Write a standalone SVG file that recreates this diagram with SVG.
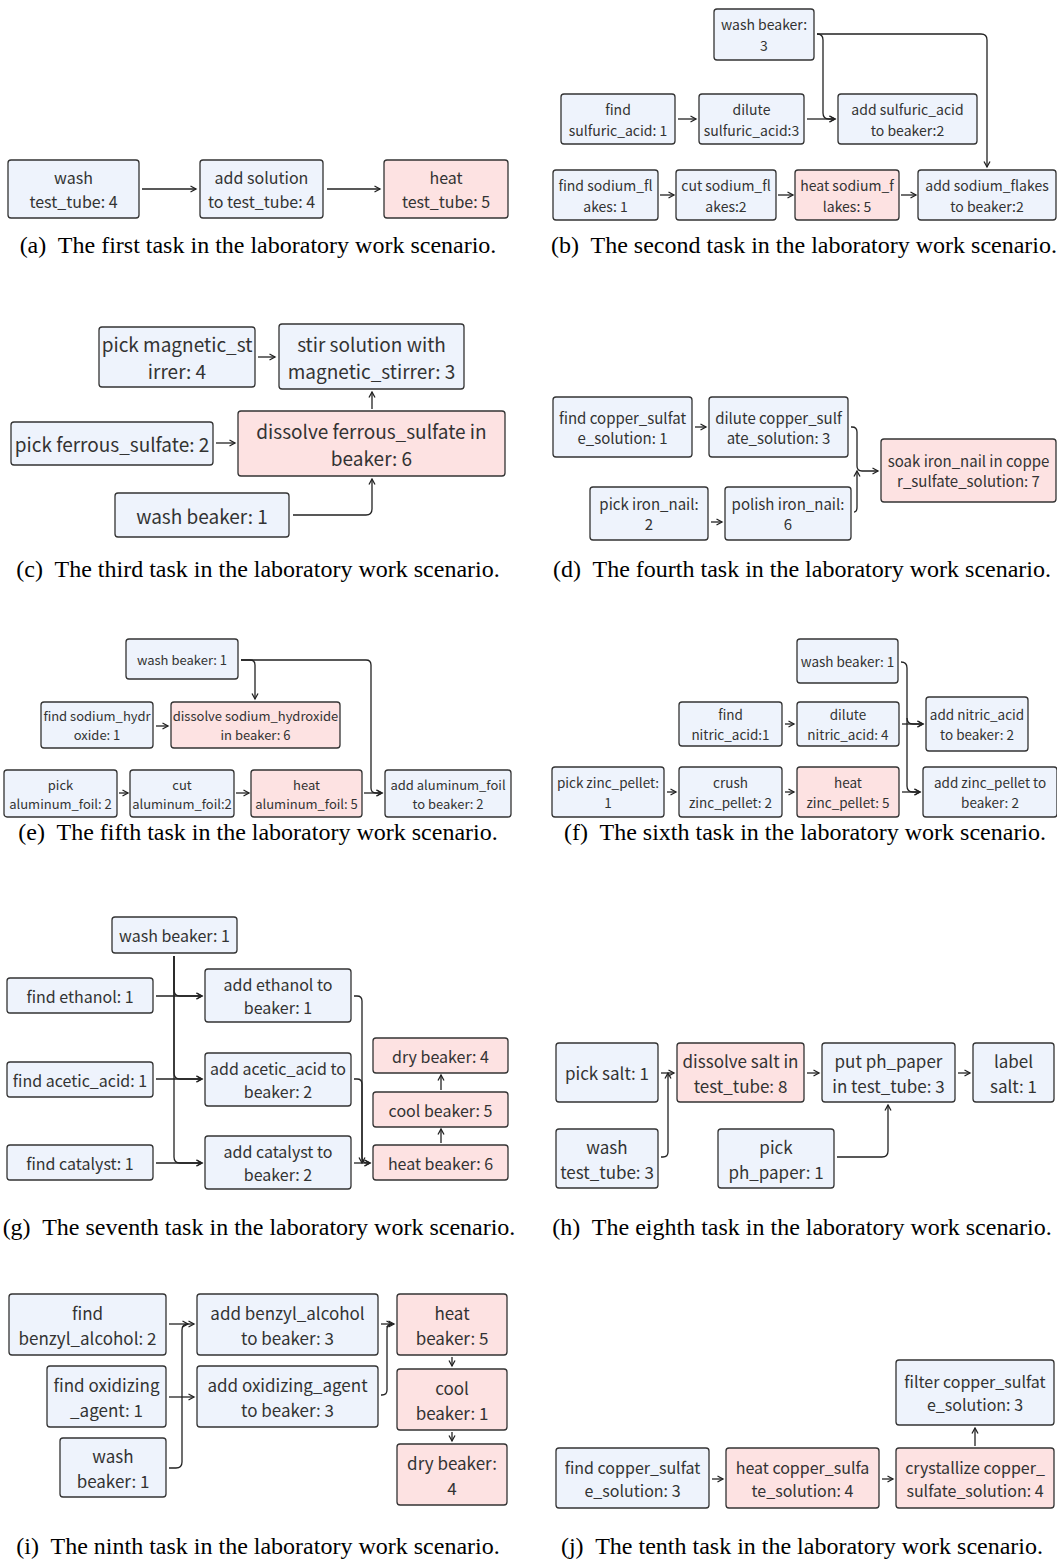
<svg xmlns="http://www.w3.org/2000/svg" width="1057" height="1564" viewBox="0 0 1057 1564">
<style>
rect{stroke:#333;stroke-width:1.3;fill:#eef3fc}
rect.p{fill:#fde2e2}
text{font-family:"Noto Sans CJK SC","Noto Sans",sans-serif;fill:#333;text-anchor:middle;dominant-baseline:central}
text.cap{font-family:"Liberation Serif","Times New Roman",serif;fill:#000;font-size:24px}
.c path{fill:none;stroke:#222;stroke-width:1.3}
.a path{marker-end:url(#ah)}
</style>
<defs>
<marker id="ah" markerWidth="8" markerHeight="8" refX="6.5" refY="4" orient="auto" markerUnits="userSpaceOnUse"><path d="M1,1 L6.5,4 L1,7" fill="none" stroke="#222" stroke-width="1.3"/></marker>
</defs>
<rect width="1057" height="1564" style="fill:#fff;stroke:none"/>

<!-- (a) -->
<g font-size="16">
<g id="a1"><rect x="8" y="160" width="131" height="58" rx="3"/><text x="73.5" y="177">wash</text><text x="73.5" y="201">test_tube: 4</text></g>
<g id="a2"><rect x="200" y="160" width="123" height="58" rx="3"/><text x="261.5" y="177">add solution</text><text x="261.5" y="201">to test_tube: 4</text></g>
<g id="a3"><rect class="p" x="384" y="160" width="124" height="58" rx="3"/><text x="446" y="177">heat</text><text x="446" y="201">test_tube: 5</text></g>
</g>
<g class="c a" id="conn-a"><path d="M142,189 H196"/><path d="M327,189 H380"/></g>
<text class="cap" x="258" y="245" xml:space="preserve">(a)  The first task in the laboratory work scenario.</text>

<!-- (b) -->
<g font-size="14">
<g id="b1"><rect x="714" y="9" width="100" height="51" rx="3"/><text x="764" y="24">wash beaker:</text><text x="764" y="45">3</text></g>
<g id="b2"><rect x="561" y="94" width="114" height="50" rx="3"/><text x="618" y="108.5">find</text><text x="618" y="129.5">sulfuric_acid: 1</text></g>
<g id="b3"><rect x="699" y="94" width="105" height="50" rx="3"/><text x="751.5" y="108.5">dilute</text><text x="751.5" y="129.5">sulfuric_acid:3</text></g>
<g id="b4"><rect x="838" y="94" width="139" height="50" rx="3"/><text x="907.5" y="108.5">add sulfuric_acid</text><text x="907.5" y="129.5">to beaker:2</text></g>
<g id="b5"><rect x="553" y="170" width="105" height="50" rx="3"/><text x="605.5" y="184.5">find sodium_fl</text><text x="605.5" y="205.5">akes: 1</text></g>
<g id="b6"><rect x="676" y="170" width="100" height="50" rx="3"/><text x="726" y="184.5">cut sodium_fl</text><text x="726" y="205.5">akes:2</text></g>
<g id="b7"><rect class="p" x="795" y="170" width="104" height="50" rx="3"/><text x="847" y="184.5">heat sodium_f</text><text x="847" y="205.5">lakes: 5</text></g>
<g id="b8"><rect x="918" y="170" width="138" height="50" rx="3"/><text x="987" y="184.5">add sodium_flakes</text><text x="987" y="205.5">to beaker:2</text></g>
</g>
<g class="c a" id="conn-b">
<path d="M678,119 H696"/><path d="M807,119 H835"/>
<path d="M817,34 Q823,34 823,40 V113 Q823,119 829,119 H835"/>
<path d="M817,34 H981 Q987,34 987,40 V167"/>
<path d="M660,195 H674"/><path d="M778,195 H793"/><path d="M901,195 H916"/>
</g>
<text class="cap" x="804" y="245" xml:space="preserve">(b)  The second task in the laboratory work scenario.</text>

<!-- (c) -->
<g font-size="19">
<g id="c1"><rect x="99" y="327" width="156" height="60" rx="3"/><text x="177" y="343.5">pick magnetic_st</text><text x="177" y="370.5">irrer: 4</text></g>
<g id="c2"><rect x="279" y="324" width="185" height="65" rx="3"/><text x="371.5" y="343">stir solution with</text><text x="371.5" y="370">magnetic_stirrer: 3</text></g>
<g id="c3"><rect x="11" y="422" width="202" height="43" rx="3"/><text x="112" y="443.5">pick ferrous_sulfate: 2</text></g>
<g id="c4"><rect class="p" x="238" y="411" width="267" height="65" rx="3"/><text x="371.5" y="430">dissolve ferrous_sulfate in</text><text x="371.5" y="457">beaker: 6</text></g>
<g id="c5"><rect x="115" y="493" width="174" height="44" rx="3"/><text x="202" y="515">wash beaker: 1</text></g>
</g>
<g class="c a" id="conn-c">
<path d="M258,357 H275"/><path d="M372,409 V392"/><path d="M216,443 H235"/>
<path d="M293,515 H366 Q372,515 372,509 V479"/>
</g>
<text class="cap" x="258" y="569" xml:space="preserve">(c)  The third task in the laboratory work scenario.</text>

<!-- (d) -->
<g font-size="15">
<g id="d1"><rect x="553" y="397" width="139" height="60" rx="3"/><text x="622.5" y="417">find copper_sulfat</text><text x="622.5" y="437">e_solution: 1</text></g>
<g id="d2"><rect x="709" y="397" width="139" height="60" rx="3"/><text x="778.5" y="417">dilute copper_sulf</text><text x="778.5" y="437">ate_solution: 3</text></g>
<g id="d3"><rect x="590" y="487" width="118" height="53" rx="3"/><text x="649" y="503.5">pick iron_nail:</text><text x="649" y="523.5">2</text></g>
<g id="d4"><rect x="725" y="487" width="126" height="53" rx="3"/><text x="788" y="503.5">polish iron_nail:</text><text x="788" y="523.5">6</text></g>
<g id="d5"><rect class="p" x="881" y="439" width="175" height="63" rx="3"/><text x="968.5" y="460.5">soak iron_nail in coppe</text><text x="968.5" y="480.5">r_sulfate_solution: 7</text></g>
</g>
<g class="c a" id="conn-d">
<path d="M695,427 H706"/><path d="M711,522 H722"/>
<path d="M851,427 H852 Q857,427 857,432 V466 Q857,471 862,471 H878"/>
<path d="M854,512 Q857,512 857,507 V471"/>
</g>
<text class="cap" x="802" y="569" xml:space="preserve">(d)  The fourth task in the laboratory work scenario.</text>

<!-- (e) -->
<g font-size="13">
<g id="e1"><rect x="126" y="639" width="112" height="40" rx="3"/><text x="182" y="659">wash beaker: 1</text></g>
<g id="e2"><rect x="41" y="702" width="112" height="46" rx="3"/><text x="97" y="715.5">find sodium_hydr</text><text x="97" y="734.5">oxide: 1</text></g>
<g id="e3"><rect class="p" x="171" y="702" width="169" height="46" rx="3"/><text x="255.5" y="715.5">dissolve sodium_hydroxide</text><text x="255.5" y="734.5">in beaker: 6</text></g>
<g id="e4"><rect x="4" y="770" width="113" height="47" rx="3"/><text x="60.5" y="784">pick</text><text x="60.5" y="803">aluminum_foil: 2</text></g>
<g id="e5"><rect x="130" y="770" width="104" height="47" rx="3"/><text x="182" y="784">cut</text><text x="182" y="803">aluminum_foil:2</text></g>
<g id="e6"><rect class="p" x="251" y="770" width="111" height="47" rx="3"/><text x="306.5" y="784">heat</text><text x="306.5" y="803">aluminum_foil: 5</text></g>
<g id="e7"><rect x="385" y="770" width="126" height="47" rx="3"/><text x="448" y="784">add aluminum_foil</text><text x="448" y="803">to beaker: 2</text></g>
</g>
<g class="c a" id="conn-e">
<path d="M241,660 H250 Q255,660 255,665 V699"/>
<path d="M241,660 H366 Q371,660 371,665 V788 Q371,793 376,793 H382"/>
<path d="M156,726 H168"/><path d="M119,793 H128"/><path d="M236,793 H249"/><path d="M364,793 H382"/>
</g>
<text class="cap" x="258" y="832" xml:space="preserve">(e)  The fifth task in the laboratory work scenario.</text>

<!-- (f) -->
<g font-size="13.5">
<g id="f1"><rect x="797" y="639" width="101" height="44" rx="3"/><text x="847.5" y="661">wash beaker: 1</text></g>
<g id="f2"><rect x="679" y="702" width="103" height="44" rx="3"/><text x="730.5" y="714">find</text><text x="730.5" y="734">nitric_acid:1</text></g>
<g id="f3"><rect x="797" y="702" width="102" height="44" rx="3"/><text x="848" y="714">dilute</text><text x="848" y="734">nitric_acid: 4</text></g>
<g id="f4"><rect x="926" y="697" width="102" height="54" rx="3"/><text x="977" y="714">add nitric_acid</text><text x="977" y="734">to beaker: 2</text></g>
<g id="f5"><rect x="552" y="767" width="112" height="50" rx="3"/><text x="608" y="782">pick zinc_pellet:</text><text x="608" y="802">1</text></g>
<g id="f6"><rect x="679" y="767" width="103" height="50" rx="3"/><text x="730.5" y="782">crush</text><text x="730.5" y="802">zinc_pellet: 2</text></g>
<g id="f7"><rect class="p" x="797" y="767" width="102" height="50" rx="3"/><text x="848" y="782">heat</text><text x="848" y="802">zinc_pellet: 5</text></g>
<g id="f8"><rect x="923" y="767" width="134" height="50" rx="3"/><text x="990" y="782">add zinc_pellet to</text><text x="990" y="802">beaker: 2</text></g>
</g>
<g class="c a" id="conn-f">
<path d="M901,662 Q907,662 907,668 V718 Q907,724 913,724 H923"/>
<path d="M907,718 V786 Q907,792 913,792 H920"/>
<path d="M785,724 H794"/><path d="M902,724 H923"/>
<path d="M667,792 H676"/><path d="M785,792 H794"/><path d="M902,792 H920"/>
</g>
<text class="cap" x="805" y="832" xml:space="preserve">(f)  The sixth task in the laboratory work scenario.</text>

<!-- (g) -->
<g font-size="16">
<g id="g1"><rect x="112" y="917" width="125" height="36" rx="3"/><text x="174.5" y="935">wash beaker: 1</text></g>
<g id="g2"><rect x="7" y="978" width="146" height="35" rx="3"/><text x="80" y="995.5">find ethanol: 1</text></g>
<g id="g3"><rect x="7" y="1062" width="146" height="35" rx="3"/><text x="80" y="1079.5">find acetic_acid: 1</text></g>
<g id="g4"><rect x="7" y="1145" width="146" height="35" rx="3"/><text x="80" y="1162.5">find catalyst: 1</text></g>
<g id="g5"><rect x="205" y="969" width="146" height="53" rx="3"/><text x="278" y="984">add ethanol to</text><text x="278" y="1007">beaker: 1</text></g>
<g id="g6"><rect x="205" y="1053" width="146" height="53" rx="3"/><text x="278" y="1068">add acetic_acid to</text><text x="278" y="1091">beaker: 2</text></g>
<g id="g7"><rect x="205" y="1136" width="146" height="53" rx="3"/><text x="278" y="1151">add catalyst to</text><text x="278" y="1174">beaker: 2</text></g>
<g id="g8"><rect class="p" x="373" y="1038" width="135" height="35" rx="3"/><text x="440.5" y="1055.5">dry beaker: 4</text></g>
<g id="g9"><rect class="p" x="373" y="1092" width="135" height="35" rx="3"/><text x="440.5" y="1109.5">cool beaker: 5</text></g>
<g id="g10"><rect class="p" x="373" y="1145" width="135" height="35" rx="3"/><text x="440.5" y="1162.5">heat beaker: 6</text></g>
</g>
<g class="c a" id="conn-g">
<path d="M174,956 V990 Q174,996 180,996 H202"/>
<path d="M174,956 V1073 Q174,1079 180,1079 H202"/>
<path d="M174,956 V1157 Q174,1163 180,1163 H202"/>
<path d="M156,996 H202"/><path d="M156,1079 H202"/><path d="M156,1163 H202"/>
<path d="M354,996 H357 Q362,996 362,1001 V1157 Q362,1163 367,1163 H370"/>
<path d="M354,1079 H357 Q362,1079 362,1084 V1163"/>
<path d="M354,1163 H370"/>
<path d="M441,1143 V1129"/><path d="M441,1090 V1075"/>
</g>
<text class="cap" x="259" y="1227" xml:space="preserve">(g)  The seventh task in the laboratory work scenario.</text>

<!-- (h) -->
<g font-size="17">
<g id="h1"><rect x="556" y="1043" width="102" height="59" rx="3"/><text x="607" y="1072.5">pick salt: 1</text></g>
<g id="h2"><rect class="p" x="677" y="1043" width="127" height="59" rx="3"/><text x="740.5" y="1060">dissolve salt in</text><text x="740.5" y="1085">test_tube: 8</text></g>
<g id="h3"><rect x="822" y="1043" width="133" height="59" rx="3"/><text x="888.5" y="1060">put ph_paper</text><text x="888.5" y="1085">in test_tube: 3</text></g>
<g id="h4"><rect x="973" y="1043" width="81" height="59" rx="3"/><text x="1013.5" y="1060">label</text><text x="1013.5" y="1085">salt: 1</text></g>
<g id="h5"><rect x="556" y="1129" width="102" height="59" rx="3"/><text x="607" y="1146">wash</text><text x="607" y="1171">test_tube: 3</text></g>
<g id="h6"><rect x="718" y="1129" width="116" height="59" rx="3"/><text x="776" y="1146">pick</text><text x="776" y="1171">ph_paper: 1</text></g>
</g>
<g class="c a" id="conn-h">
<path d="M661,1073 H674"/>
<path d="M661,1157 H663 Q668,1157 668,1152 V1073"/>
<path d="M807,1073 H819"/><path d="M958,1073 H970"/>
<path d="M837,1157 H882 Q888,1157 888,1151 V1105"/>
</g>
<text class="cap" x="802" y="1227" xml:space="preserve">(h)  The eighth task in the laboratory work scenario.</text>

<!-- (i) -->
<g font-size="17">
<g id="i1"><rect x="9" y="1294" width="157" height="61" rx="3"/><text x="87.5" y="1312">find</text><text x="87.5" y="1337">benzyl_alcohol: 2</text></g>
<g id="i2"><rect x="47" y="1366" width="119" height="61" rx="3"/><text x="106.5" y="1384">find oxidizing</text><text x="106.5" y="1409">_agent: 1</text></g>
<g id="i3"><rect x="60" y="1438" width="106" height="59" rx="3"/><text x="113" y="1455">wash</text><text x="113" y="1480">beaker: 1</text></g>
<g id="i4"><rect x="197" y="1294" width="181" height="61" rx="3"/><text x="287.5" y="1312">add benzyl_alcohol</text><text x="287.5" y="1337">to beaker: 3</text></g>
<g id="i5"><rect x="197" y="1366" width="181" height="61" rx="3"/><text x="287.5" y="1384">add oxidizing_agent</text><text x="287.5" y="1409">to beaker: 3</text></g>
<g id="i6"><rect class="p" x="397" y="1294" width="110" height="61" rx="3"/><text x="452" y="1312">heat</text><text x="452" y="1337">beaker: 5</text></g>
<g id="i7"><rect class="p" x="397" y="1369" width="110" height="61" rx="3"/><text x="452" y="1387">cool</text><text x="452" y="1412">beaker: 1</text></g>
<g id="i8"><rect class="p" x="397" y="1444" width="110" height="61" rx="3"/><text x="452" y="1462">dry beaker:</text><text x="452" y="1487">4</text></g>
</g>
<g class="c a" id="conn-i">
<path d="M169,1324 H194"/><path d="M169,1397 H194"/>
<path d="M169,1468 H176 Q182,1468 182,1462 V1330 Q182,1324 188,1324"/>
<path d="M381,1324 H394"/>
<path d="M381,1395 H382 Q387,1395 387,1390 V1329 Q387,1324 392,1324"/>
<path d="M452,1357 V1366"/><path d="M452,1432 V1441"/>
</g>
<text class="cap" x="258" y="1546" xml:space="preserve">(i)  The ninth task in the laboratory work scenario.</text>

<!-- (j) -->
<g font-size="16">
<g id="j1"><rect x="896" y="1360" width="158" height="65" rx="3"/><text x="975" y="1381">filter copper_sulfat</text><text x="975" y="1404">e_solution: 3</text></g>
<g id="j2"><rect x="556" y="1448" width="153" height="60" rx="3"/><text x="632.5" y="1466.5">find copper_sulfat</text><text x="632.5" y="1489.5">e_solution: 3</text></g>
<g id="j3"><rect class="p" x="726" y="1448" width="153" height="60" rx="3"/><text x="802.5" y="1466.5">heat copper_sulfa</text><text x="802.5" y="1489.5">te_solution: 4</text></g>
<g id="j4"><rect class="p" x="896" y="1448" width="158" height="60" rx="3"/><text x="975" y="1466.5">crystallize copper_</text><text x="975" y="1489.5">sulfate_solution: 4</text></g>
</g>
<g class="c a" id="conn-j">
<path d="M712,1479 H723"/><path d="M882,1479 H893"/><path d="M975,1446 V1428"/>
</g>
<text class="cap" x="802" y="1546" xml:space="preserve">(j)  The tenth task in the laboratory work scenario.</text>
</svg>
